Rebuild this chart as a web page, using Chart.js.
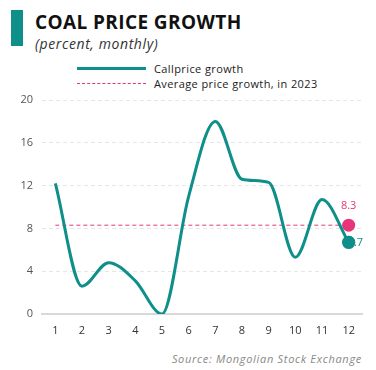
<!DOCTYPE html>
<html><head><meta charset="utf-8">
<script src="https://cdn.jsdelivr.net/npm/chart.js@4/dist/chart.umd.min.js"></script>
<style>
html,body{margin:0;padding:0;background:#fff;width:376px;height:370px;overflow:hidden;font-family:"Open Sans",sans-serif;}
#wrap{position:relative;width:376px;height:370px;}
#bar{position:absolute;left:11px;top:10px;width:12px;height:36px;background:#0E8F8A;}
#title{position:absolute;left:35px;top:9px;font-size:19px;font-weight:700;color:#111;letter-spacing:0.4px;}
#sub{position:absolute;left:35px;top:34px;font-size:14px;font-style:italic;color:#333;letter-spacing:0.6px;}
#legend{position:absolute;left:77px;top:61px;font-size:11px;color:#222;}
.li{position:relative;height:15px;line-height:15px;}
.sw{position:absolute;left:0;top:7px;width:69px;}
.lt{position:absolute;left:77px;top:0;white-space:nowrap;letter-spacing:0.4px;}
#src{position:absolute;right:14px;top:351px;font-size:11px;font-style:italic;color:#888;letter-spacing:0.7px;}
canvas{position:absolute;left:0;top:0;}
</style></head>
<body><div id="wrap">
<div id="bar"></div>
<div id="title">COAL PRICE GROWTH</div>
<div id="sub">(percent, monthly)</div>
<div id="legend"></div>
<div id="src">Source: Mongolian Stock Exchange</div>
<canvas id="c" width="376" height="370"></canvas>
</div>
<script>
const months = ["1","2","3","4","5","6","7","8","9","10","11","12"];
const coalGrowth = [12.2, 2.6, 4.8, 3.1, 0.0, 11.0, 18.0, 12.6, 12.3, 5.3, 10.7, 6.7];
const avgValue = 8.3;
const avgLine = months.map(() => avgValue);
const seriesNames = ["Callprice growth", "Average price growth, in 2023"];
const yTicks = [0, 4, 8, 12, 16, 20];

const teal = "#0E8F8A", pink = "#E8357A";

const lg = document.getElementById("legend");
seriesNames.forEach((n, i) => {
  const d = document.createElement("div"); d.className = "li";
  const s = document.createElement("div"); s.className = "sw";
  s.style.borderTop = i === 0 ? "3px solid " + teal : "1px dashed " + pink;
  s.style.top = i === 0 ? "6px" : "7px";
  const t = document.createElement("div"); t.className = "lt"; t.textContent = n;
  d.appendChild(s); d.appendChild(t); lg.appendChild(d);
});

const lastLabels = {
  id: "lastLabels",
  afterDatasetsDraw(chart) {
    const ctx = chart.ctx;
    ctx.save();
    ctx.font = "11px 'Open Sans'";
    const m1 = chart.getDatasetMeta(1).data[11];
    ctx.fillStyle = pink; ctx.textAlign = "center"; ctx.textBaseline = "bottom";
    ctx.fillText(avgValue.toFixed(1), m1.x, m1.y - 14);
    const m0 = chart.getDatasetMeta(0).data[11];
    ctx.fillStyle = teal; ctx.textAlign = "left"; ctx.textBaseline = "middle";
    ctx.fillText(coalGrowth[11].toFixed(1), m0.x - 1, m0.y + 1);
    ctx.beginPath(); ctx.arc(m0.x, m0.y, 6.5, 0, Math.PI * 2); ctx.fillStyle = teal; ctx.fill();
    ctx.restore();
  }
};

new Chart(document.getElementById("c"), {
  type: "line",
  data: {
    labels: months,
    datasets: [
      {
        label: seriesNames[0], data: coalGrowth, borderColor: teal, borderWidth: 3,
        cubicInterpolationMode: "monotone", fill: false,
        pointRadius: coalGrowth.map((v, i) => i === 11 ? 6.5 : 0),
        pointBackgroundColor: teal, pointBorderWidth: 0, order: 1
      },
      {
        label: seriesNames[1], data: avgLine, borderColor: pink, borderWidth: 1,
        borderDash: [4, 3], fill: false, tension: 0,
        pointRadius: avgLine.map((v, i) => i === 11 ? 6.5 : 0),
        pointBackgroundColor: pink, pointBorderWidth: 0, order: 2
      }
    ]
  },
  options: {
    responsive: false, animation: false, devicePixelRatio: 1,
    layout: { padding: { top: 100, left: 0, right: 14, bottom: 26 } },
    plugins: { legend: { display: false }, tooltip: { enabled: false } },
    scales: {
      x: {
        offset: true,
        grid: { display: false, drawTicks: false },
        border: { display: true, color: "#d9d9d9", width: 2 },
        ticks: { color: "#333", font: { family: "Open Sans", size: 11 }, padding: 10, maxRotation: 0 },
        afterFit(s) { s.height = 30; }
      },
      y: {
        min: 0, max: 20,
        afterBuildTicks(s) { s.ticks = yTicks.map(v => ({ value: v })); },
        grid: { color: "#e6e6e6", drawTicks: false, lineWidth: 1 },
        border: { display: false, dash: [4, 3] },
        ticks: { color: "#555", font: { family: "Open Sans", size: 11 }, padding: 9 },
        afterFit(s) { s.width = 42; }
      }
    }
  },
  plugins: [lastLabels]
});
</script>
</body></html>
